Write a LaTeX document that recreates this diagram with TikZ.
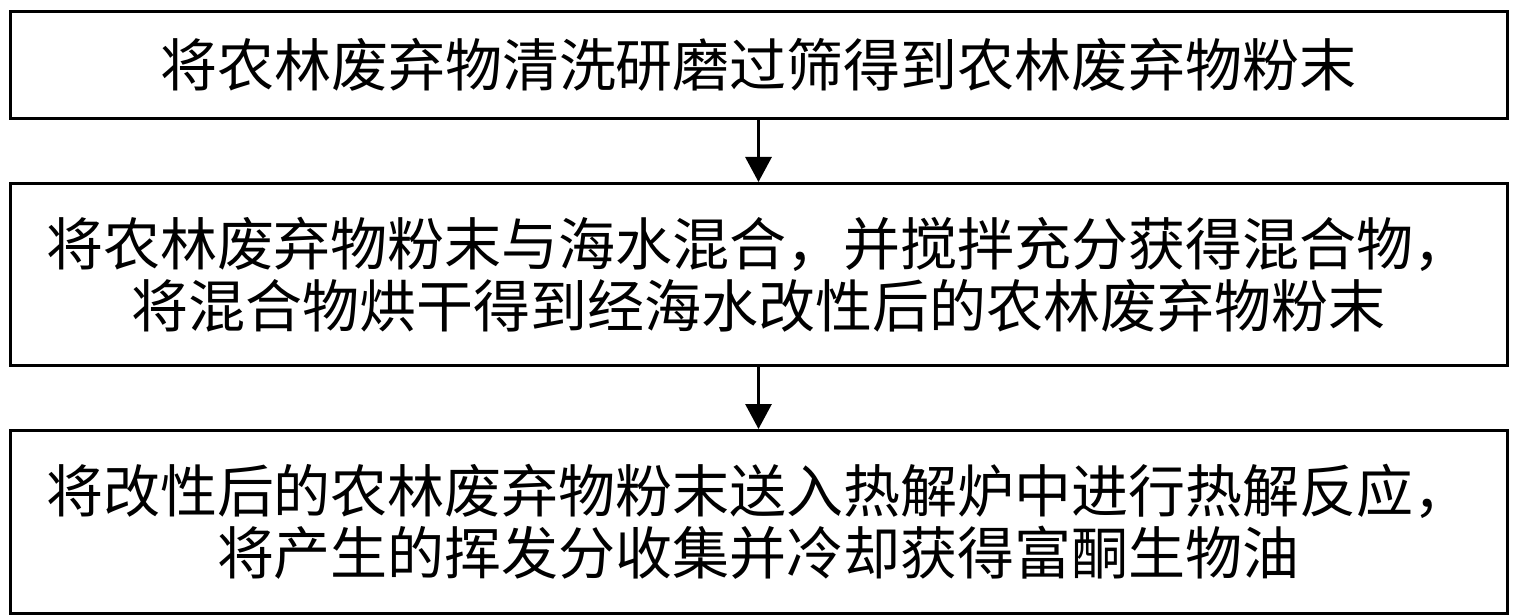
\documentclass[tikz,border=0pt]{standalone}
\usepackage{fontspec}
\newfontfamily\cjk{Noto Sans CJK SC}
\usepackage{tikz}
\usetikzlibrary{positioning, arrows.meta}

\begin{document}
\begin{tikzpicture}[
  x=1pt, y=1pt,
  stepbox/.style={rectangle, draw, line width=3pt, minimum width=1497pt, inner sep=0pt, align=center, font=\cjk\fontsize{57}{62}\selectfont},
  flow/.style={-{Triangle[length=25pt, width=26pt]}, line width=3pt},
  node distance=62pt
]
\useasboundingbox (0,0) rectangle (1516,-615);
\node[stepbox, minimum height=107pt, anchor=north] (s1) at (758.5,-10) {将农林废弃物清洗研磨过筛得到农林废弃物粉末};
\node[stepbox, minimum height=182pt, below=of s1] (s2) {将农林废弃物粉末与海水混合，并搅拌充分获得混合物，\\将混合物烘干得到经海水改性后的农林废弃物粉末};
\node[stepbox, minimum height=183pt, below=of s2] (s3) {将改性后的农林废弃物粉末送入热解炉中进行热解反应，\\将产生的挥发分收集并冷却获得富酮生物油};

\draw[flow] (s1) -- (s2);
\draw[flow] (s2) -- (s3);
\end{tikzpicture}
\end{document}
